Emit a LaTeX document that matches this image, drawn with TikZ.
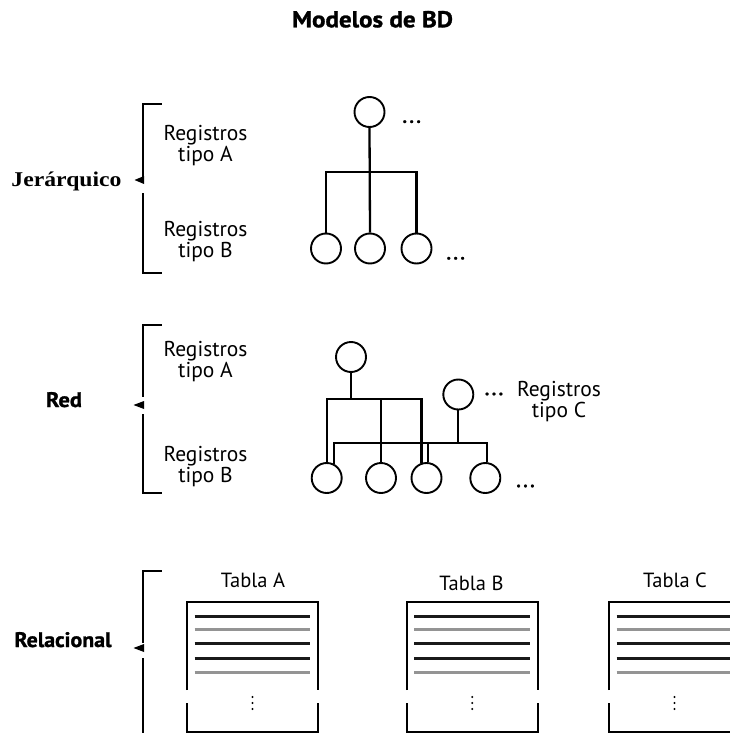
\documentclass[tikz,border=0pt]{standalone}
\usepackage{fontspec}
\setmainfont{PT Sans}[BoldFeatures={FakeBold=1.2}]
\newfontfamily\labelserif{Liberation Serif}
\usetikzlibrary{calc}

\begin{document}
\begin{tikzpicture}[x=1pt,y=-1pt,
  rec/.style={circle,draw,line width=1.9pt,minimum size=30pt,inner sep=0pt},
  link/.style={line width=2.3pt},
  bracket/.style={line width=1.7pt},
  regtext/.style={align=center,inner sep=0pt,font=\fontsize{21.5}{21}\selectfont},
  modelname/.style={inner sep=0pt,font=\bfseries\fontsize{21}{24}\selectfont},
  tabletitle/.style={inner sep=0pt,font=\fontsize{20.5}{22}\selectfont},
  more/.style={inner sep=0pt,font=\bfseries\fontsize{18}{20}\selectfont},
  tablebox/.style={line width=2pt},
  rowdark/.style={line width=2.8pt,black!90},
  rowlight/.style={line width=2.8pt,black!42},
]
\useasboundingbox (0,0) rectangle (730,733);

% title
\node[inner sep=0pt,anchor=base,font=\bfseries\fontsize{23}{26}\selectfont]
  (title) at (372.5,27.3) {\resizebox{161pt}{\height}{Modelos de BD}};

% ---------- hierarchical model ----------
\node[anchor=base east,inner sep=0pt,font=\labelserif\bfseries\fontsize{21}{24}\selectfont]
  (jer) at (121.7,186) {\resizebox{110pt}{\height}{Jerárquico}};
\draw[bracket] (161.7,104.3) -- (143.3,104.3) -- (143.3,177);
\draw[bracket] (143.3,193) -- (143.3,272.7) -- (161.7,272.7);
\fill (134.5,180) -- (144,176) -- (144,184) -- cycle;
\node[regtext] (hA) at (205.5,145.5) {Registros\\tipo A};
\node[regtext] (hB) at (205.5,242) {Registros\\tipo B};

\node[rec] (h0) at (369.5,112) {};
\node[rec] (h1) at (326,248.5) {};
\node[rec] (h2) at (370,248.5) {};
\node[rec] (h3) at (416.5,248.5) {};
\coordinate (hbar) at (370,172.3);
\draw[link] (h0.south) -- (h2.north);
\draw[link] (h1.north) |- (hbar) -| (h3.north);
\node[more] (hdots0) at (411.7,121.7) {.\kern2.5pt.\kern2.5pt.};
\node[more] (hdots1) at (455.7,258.3) {.\kern2.5pt.\kern2.5pt.};

% ---------- network model ----------
\node[anchor=base,modelname] (red) at (64,407) {\resizebox{36pt}{\height}{Red}};
\draw[bracket] (161.7,325) -- (143.3,325) -- (143.3,397);
\draw[bracket] (143.3,414) -- (143.3,493.3) -- (161.7,493.3);
\fill (133.5,405) -- (144,401) -- (144,409) -- cycle;
\node[regtext] (nA) at (205.5,361.5) {Registros\\tipo A};
\node[regtext] (nB) at (205.5,467) {Registros\\tipo B};
\node[regtext] (nC) at (559,401.5) {Registros\\tipo C};

\node[rec] (n0) at (351,357) {};
\node[rec] (c0) at (458.3,394.5) {};
\node[rec] (b1) at (326.7,478) {};
\node[rec] (b2) at (381,478) {};
\node[rec] (b3) at (426.5,478) {};
\node[rec] (b4) at (485.3,478) {};
\coordinate (r1) at (351,399.3);
\coordinate (r2) at (458.3,442.7);
\draw[link] (n0.south) -- (r1);
\draw[link] (b1.north) |- (r1) -| (b3.108);
\draw[link] (r1 -| b2.north) -- (b2.north);
\draw[link] (c0.south) -- (r2);
\draw[link] (b1.64) |- (r2) -| (b4.85);
\draw[link] (r2 -| b3.85) -- (b3.85);
\node[more] (ndots0) at (494,394) {.\kern2.5pt.\kern2.5pt.};
\node[more] (ndots1) at (525.5,486) {.\kern2.5pt.\kern2.5pt.};

% ---------- relational model ----------
\node[anchor=base east,modelname] (rel) at (111.7,647) {\resizebox{97pt}{\height}{Relacional}};
\draw[bracket] (161.7,570.7) -- (143.3,570.7) -- (143.3,643);
\draw[bracket] (143.3,658.3) -- (143.3,740);
\fill (133.5,648) -- (144,644) -- (144,652) -- cycle;

\node[tabletitle,anchor=base] (tA) at (253,587) {Tabla A};
\node[tabletitle,anchor=base] (tB) at (471.5,590) {Tabla B};
\node[tabletitle,anchor=base] (tC) at (675,587) {Tabla C};

\foreach \tx in {187,406.7,609} {
  \draw[tablebox] (\tx,690) -- (\tx,601.7) -- (\tx+131,601.7) -- (\tx+131,690);
  \draw[tablebox] (\tx,703) -- (\tx,731.7) -- (\tx+131,731.7) -- (\tx+131,703);
  \draw[rowdark]  (\tx+7.6,616.7) -- (\tx+123.3,616.7);
  \draw[rowlight] (\tx+7.6,629.3) -- (\tx+123.3,629.3);
  \draw[rowdark]  (\tx+7.6,643.3) -- (\tx+123.3,643.3);
  \draw[rowdark]  (\tx+7.6,658.3) -- (\tx+123.3,658.3);
  \draw[rowlight] (\tx+7.6,672.3) -- (\tx+123.3,672.3);
  \foreach \dy in {697,703,709}
    \fill (\tx+65.5,\dy) circle (1.1);
}
\end{tikzpicture}
\end{document}
